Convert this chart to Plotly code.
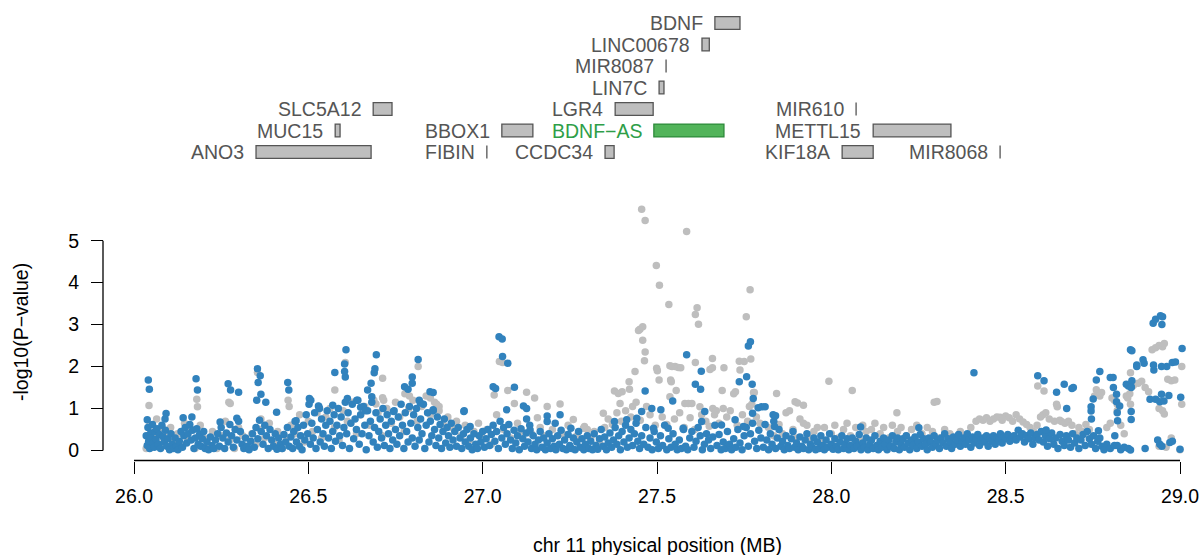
import plotly.graph_objects as go

# ---------------- gene track data ----------------
gene_names = ["BDNF", "LINC00678", "MIR8087", "LIN7C", "SLC5A12", "LGR4", "MIR610",
              "MUC15", "BBOX1", "BDNF\u2212AS", "METTL15", "ANO3", "FIBIN", "CCDC34",
              "KIF18A", "MIR8068"]
gene_start = [27.666, 27.629, 27.526, 27.506, 26.686, 27.380, 28.071,
              26.577, 27.055, 27.491, 28.120, 26.350, 27.012, 27.351,
              28.031, 28.484]
gene_end = [27.738, 27.650, 27.526, 27.520, 26.740, 27.489, 28.071,
            26.591, 27.144, 27.692, 28.343, 26.680, 27.012, 27.377,
            28.120, 28.484]
gene_row = [1, 2, 3, 4, 5, 5, 5, 6, 6, 6, 6, 7, 7, 7, 7, 7]
highlight_gene = "BDNF\u2212AS"

# ---------------- association data (MB, -log10 P) ----------------
grey_snps = [
    # 26.0 - 27.35 background
    (26.035, 0.05), (26.045, 0.60), (26.055, 0.30), (26.065, 0.75), (26.075, 0.15), (26.085, 0.50),
    (26.095, 0.35), (26.105, 0.55), (26.115, 0.20), (26.125, 0.40), (26.135, 0.10), (26.145, 0.65),
    (26.155, 0.25), (26.165, 0.50), (26.175, 0.05), (26.190, 0.60), (26.200, 0.30), (26.212, 0.15),
    (26.225, 0.45), (26.238, 0.05), (26.250, 0.35), (26.262, 0.70), (26.275, 0.25), (26.288, 0.05),
    (26.300, 0.55), (26.312, 0.35), (26.325, 0.05), (26.338, 0.40), (26.350, 0.15), (26.362, 0.50),
    (26.375, 0.30), (26.388, 0.65), (26.400, 0.20), (26.412, 0.45), (26.425, 0.05), (26.438, 0.30),
    (26.450, 0.60), (26.462, 0.40), (26.475, 0.85), (26.488, 0.20), (26.500, 0.70), (26.512, 0.45),
    (26.525, 0.90), (26.538, 0.30), (26.550, 0.80), (26.562, 1.00), (26.575, 0.55), (26.588, 0.25),
    (26.600, 0.95), (26.612, 0.70), (26.625, 1.15), (26.638, 0.40), (26.650, 0.85), (26.662, 1.05),
    (26.675, 0.60), (26.688, 1.20), (26.700, 0.90), (26.712, 0.35), (26.725, 1.00), (26.738, 0.65),
    (26.750, 1.15), (26.762, 0.80), (26.775, 0.45), (26.788, 1.00), (26.800, 1.20), (26.812, 0.70),
    (26.825, 1.05), (26.838, 1.30), (26.850, 0.85), (26.862, 1.15), (26.875, 0.95), (26.888, 0.60),
    (26.900, 0.80), (26.912, 0.55), (26.925, 0.70), (26.938, 0.35), (26.950, 0.60), (26.962, 0.25),
    (26.975, 0.45), (26.988, 0.65), (27.000, 0.30), (27.012, 0.50), (27.025, 0.15), (27.040, 0.85),
    (27.060, 0.50), (27.080, 0.30), (27.100, 0.65), (27.110, 0.45), (27.140, 0.40), (27.165, 0.55),
    (27.175, 0.35), (27.200, 0.50), (27.230, 0.40), (27.245, 0.60), (27.270, 0.35), (27.310, 0.30),
    (27.320, 0.45), (27.335, 0.20),
    # 26.0 - 27.35 elevated
    (26.043, 1.07), (26.180, 1.22), (26.182, 1.04), (26.272, 1.15), (26.276, 1.12), (26.354, 1.86),
    (26.364, 0.75), (26.378, 0.60), (26.442, 1.20), (26.445, 1.05), (26.576, 1.44), (26.606, 2.10),
    (26.713, 1.72), (26.694, 1.11), (26.713, 1.26), (26.716, 1.20), (26.815, 2.00), (26.777, 1.35),
    (26.790, 1.30), (26.868, 1.10), (26.875, 1.05), (26.850, 1.25), (27.033, 1.32), (27.048, 2.12),
    (27.057, 2.10), (27.072, 1.43), (27.091, 1.12), (27.126, 1.39), (27.149, 1.25), (27.157, 0.78),
    (27.185, 1.05), (27.222, 1.11), (27.260, 0.74), (27.292, 0.57), (27.300, 0.50), (27.289, 0.53),
    # 27.35 - 27.95 peak
    (27.456, 5.75), (27.466, 5.48), (27.585, 5.22), (27.498, 4.41), (27.507, 3.94), (27.534, 3.48),
    (27.615, 3.40), (27.610, 3.24), (27.619, 3.01), (27.767, 3.83), (27.756, 3.19), (27.769, 2.18),
    (27.451, 2.89), (27.447, 2.86), (27.459, 2.95), (27.459, 2.63), (27.466, 2.35), (27.464, 2.14),
    (27.499, 1.96), (27.501, 1.90), (27.506, 1.68), (27.437, 1.88), (27.420, 1.64), (27.537, 2.02),
    (27.543, 2.00), (27.552, 2.00), (27.561, 1.98), (27.568, 1.97), (27.539, 1.68), (27.541, 1.64),
    (27.610, 2.10), (27.659, 2.19), (27.659, 1.97), (27.652, 1.93), (27.692, 1.97), (27.378, 1.42),
    (27.389, 1.36), (27.400, 1.40), (27.421, 1.46), (27.394, 1.12), (27.430, 1.05), (27.346, 0.89),
    (27.537, 1.28), (27.555, 1.43), (27.580, 1.12), (27.590, 1.12), (27.600, 1.12), (27.623, 1.04),
    (27.660, 1.00), (27.670, 0.95), (27.690, 1.00), (27.687, 1.43), (27.720, 1.35), (27.725, 1.40),
    (27.736, 2.13), (27.750, 2.12), (27.738, 1.92), (27.777, 1.38), (27.779, 1.38), (27.765, 1.05),
    (27.772, 1.10), (27.843, 1.36), (27.896, 1.16), (27.903, 1.13), (27.870, 0.90), (27.880, 0.95),
    (27.910, 0.75), (27.930, 0.60), (27.960, 0.55), (27.993, 1.65), (27.920, 1.08), (27.920, 0.65),
    (27.350, 0.55), (27.360, 0.75), (27.372, 0.62), (27.385, 0.90), (27.398, 0.70), (27.410, 0.95),
    (27.425, 0.80), (27.440, 1.15), (27.452, 0.72), (27.470, 1.05), (27.480, 0.85), (27.495, 0.60),
    (27.515, 0.80), (27.528, 0.62), (27.550, 0.75), (27.565, 0.90), (27.578, 0.55), (27.595, 0.78),
    (27.608, 0.50), (27.628, 0.85), (27.640, 0.70), (27.650, 0.58), (27.665, 0.85), (27.678, 0.65),
    (27.700, 0.80), (27.710, 0.95), (27.730, 0.60), (27.745, 0.85), (27.760, 0.70), (27.785, 0.80),
    (27.795, 0.65), (27.820, 0.55), (27.835, 0.35), (27.850, 0.62), (27.860, 0.40), (27.890, 0.50),
    (27.900, 0.30),
    # 27.95 - 28.6
    (28.060, 1.43), (28.188, 0.90), (28.295, 1.15), (28.303, 1.17), (28.484, 0.79),
    (27.940, 0.30), (27.950, 0.45), (27.970, 0.25), (27.980, 0.55), (28.000, 0.40), (28.010, 0.60),
    (28.020, 0.30), (28.035, 0.50), (28.045, 0.65), (28.055, 0.35), (28.070, 0.55), (28.080, 0.25),
    (28.090, 0.60), (28.100, 0.45), (28.115, 0.50), (28.125, 0.65), (28.140, 0.40), (28.150, 0.55),
    (28.165, 0.30), (28.175, 0.60), (28.190, 0.45), (28.200, 0.55), (28.215, 0.35), (28.230, 0.50),
    (28.245, 0.60), (28.260, 0.40), (28.275, 0.55), (28.290, 0.45), (28.310, 0.30), (28.325, 0.50),
    (28.340, 0.40), (28.355, 0.25), (28.370, 0.45), (28.385, 0.35), (28.400, 0.55), (28.415, 0.70),
    (28.425, 0.75), (28.435, 0.72), (28.445, 0.78), (28.455, 0.70), (28.465, 0.75), (28.475, 0.80),
    (28.490, 0.72), (28.500, 0.82), (28.510, 0.78), (28.520, 0.70), (28.530, 0.85), (28.540, 0.75),
    (28.550, 0.68), (28.560, 0.62), (28.570, 0.55), (28.580, 0.45), (28.590, 0.60),
    # 28.6 - 29.0
    (28.592, 1.54), (28.610, 1.42), (28.607, 0.85), (28.615, 0.90), (28.600, 0.80), (28.625, 0.75),
    (28.640, 0.70), (28.648, 1.04), (28.646, 1.10), (28.655, 0.72), (28.660, 0.69), (28.670, 0.65),
    (28.680, 0.70), (28.690, 0.60), (28.700, 0.40), (28.710, 0.55), (28.720, 0.45), (28.730, 0.62),
    (28.740, 0.50), (28.755, 1.30), (28.760, 1.45), (28.770, 1.30), (28.775, 1.38), (28.790, 0.55),
    (28.800, 0.65), (28.805, 1.25), (28.812, 1.20), (28.820, 1.10), (28.820, 0.95), (28.830, 0.60),
    (28.840, 0.40), (28.846, 1.30), (28.850, 1.25), (28.856, 1.35), (28.858, 1.85), (28.858, 1.10),
    (28.862, 1.62), (28.866, 1.55), (28.880, 1.60), (28.890, 1.65), (28.900, 1.50), (28.910, 1.40),
    (28.920, 2.40), (28.930, 2.45), (28.940, 2.50), (28.950, 2.47), (28.955, 2.55), (28.940, 1.00),
    (28.950, 0.95), (28.955, 0.87), (28.965, 1.70), (28.975, 1.66), (28.985, 1.68), (29.005, 2.00),
    (29.005, 1.10), (28.940, 0.10), (28.960, 0.08), (29.000, 0.02), (28.975, 0.30),
]

blue_snps = [
    # 26.03 - 26.45 low
    (26.035, 0.35), (26.038, 0.12), (26.040, 0.55), (26.042, 0.22), (26.045, 0.05), (26.048, 0.42),
    (26.050, 0.30), (26.053, 0.62), (26.055, 0.18), (26.058, 0.08), (26.060, 0.45), (26.063, 0.27),
    (26.066, 0.52), (26.070, 0.15), (26.073, 0.38), (26.076, 0.05), (26.080, 0.60), (26.083, 0.33),
    (26.087, 0.20), (26.090, 0.48), (26.094, 0.10), (26.098, 0.28), (26.102, 0.02), (26.106, 0.40),
    (26.110, 0.15), (26.114, 0.05), (26.118, 0.30), (26.122, 0.10), (26.126, 0.02), (26.130, 0.22),
    (26.135, 0.45), (26.139, 0.08), (26.143, 0.35), (26.147, 0.55), (26.151, 0.18), (26.155, 0.40),
    (26.160, 0.62), (26.164, 0.25), (26.168, 0.48), (26.172, 0.05), (26.176, 0.30), (26.180, 0.52),
    (26.184, 0.15), (26.188, 0.38), (26.192, 0.10), (26.196, 0.28), (26.200, 0.45), (26.204, 0.05),
    (26.209, 0.20), (26.214, 0.02), (26.219, 0.32), (26.224, 0.12), (26.229, 0.05), (26.234, 0.25),
    (26.240, 0.40), (26.245, 0.10), (26.250, 0.55), (26.255, 0.30), (26.260, 0.05), (26.265, 0.42),
    (26.270, 0.20), (26.275, 0.62), (26.280, 0.35), (26.285, 0.08), (26.290, 0.50), (26.295, 0.25),
    (26.300, 0.70), (26.305, 0.45), (26.310, 0.15), (26.315, 0.05), (26.320, 0.30), (26.325, 0.10),
    (26.330, 0.02), (26.335, 0.22), (26.340, 0.40), (26.345, 0.08), (26.350, 0.55), (26.355, 0.28),
    (26.360, 0.72), (26.365, 0.45), (26.370, 0.15), (26.375, 0.60), (26.380, 0.35), (26.385, 0.05),
    (26.390, 0.50), (26.395, 0.25), (26.400, 0.10), (26.405, 0.40), (26.410, 0.03), (26.415, 0.30),
    (26.420, 0.15), (26.425, 0.05), (26.430, 0.38), (26.435, 0.20), (26.440, 0.55), (26.445, 0.10),
    (26.450, 0.32),
    # 26.45 - 26.95 low / mid
    (26.455, 0.05), (26.458, 0.45), (26.462, 0.70), (26.466, 0.20), (26.470, 0.55), (26.474, 0.10),
    (26.478, 0.35), (26.482, 0.02), (26.486, 0.60), (26.490, 0.25), (26.494, 0.85), (26.498, 0.40),
    (26.502, 1.10), (26.506, 0.15), (26.510, 0.65), (26.514, 0.30), (26.518, 0.90), (26.522, 0.05),
    (26.526, 0.50), (26.530, 1.05), (26.534, 0.20), (26.538, 0.75), (26.542, 0.40), (26.546, 0.10),
    (26.550, 0.60), (26.554, 0.95), (26.558, 0.30), (26.562, 0.70), (26.566, 0.05), (26.570, 0.45),
    (26.574, 0.85), (26.578, 0.22), (26.582, 0.60), (26.586, 1.00), (26.590, 0.35), (26.594, 0.80),
    (26.598, 0.12), (26.602, 0.55), (26.606, 1.15), (26.610, 0.40), (26.614, 0.90), (26.618, 0.05),
    (26.622, 0.65), (26.626, 1.10), (26.630, 0.28), (26.634, 0.75), (26.638, 0.50), (26.642, 1.20),
    (26.646, 0.15), (26.650, 0.85), (26.654, 0.40), (26.658, 1.05), (26.662, 0.60), (26.666, 0.02),
    (26.670, 0.95), (26.674, 0.35), (26.678, 0.70), (26.682, 1.15), (26.686, 0.20), (26.690, 0.55),
    (26.694, 0.90), (26.698, 0.08), (26.702, 0.45), (26.706, 0.75), (26.710, 0.30), (26.714, 1.00),
    (26.718, 0.12), (26.722, 0.60), (26.726, 0.85), (26.730, 0.40), (26.734, 0.05), (26.738, 0.70),
    (26.742, 0.25), (26.746, 0.95), (26.750, 0.50), (26.754, 0.15), (26.758, 0.80), (26.762, 0.35),
    (26.766, 1.10), (26.770, 0.60), (26.774, 0.05), (26.778, 0.90), (26.782, 0.45), (26.786, 0.20),
    (26.790, 1.05), (26.794, 0.65), (26.798, 0.30), (26.802, 0.85), (26.806, 0.10), (26.810, 1.00),
    (26.814, 0.55), (26.818, 0.25), (26.822, 0.75), (26.826, 0.40), (26.830, 1.10), (26.834, 0.05),
    (26.838, 0.60), (26.842, 0.90), (26.846, 0.20), (26.850, 0.70), (26.854, 0.35), (26.858, 0.95),
    (26.862, 0.50), (26.866, 0.12), (26.870, 0.80), (26.874, 0.30), (26.878, 0.62), (26.882, 0.05),
    (26.886, 0.45), (26.890, 0.75), (26.894, 0.18), (26.898, 0.55), (26.902, 0.35), (26.906, 0.08),
    (26.910, 0.65), (26.915, 0.25), (26.920, 0.45), (26.925, 0.10), (26.930, 0.55), (26.935, 0.30),
    (26.940, 0.05), (26.945, 0.40), (26.950, 0.20),
    # 26.95 - 27.45 low
    (26.955, 0.50), (26.960, 0.10), (26.965, 0.30), (26.970, 0.02), (26.975, 0.40), (26.980, 0.15),
    (26.985, 0.05), (26.990, 0.35), (26.995, 0.20), (27.000, 0.45), (27.005, 0.08), (27.010, 0.28),
    (27.015, 0.50), (27.020, 0.12), (27.025, 0.38), (27.030, 0.60), (27.035, 0.22), (27.040, 0.45),
    (27.045, 0.05), (27.050, 0.70), (27.055, 0.30), (27.060, 0.55), (27.065, 0.15), (27.070, 0.40),
    (27.075, 0.62), (27.080, 0.25), (27.085, 0.05), (27.090, 0.48), (27.095, 0.18), (27.100, 0.35),
    (27.105, 0.02), (27.110, 0.52), (27.115, 0.28), (27.120, 0.10), (27.125, 0.42), (27.130, 0.20),
    (27.135, 0.60), (27.140, 0.05), (27.145, 0.35), (27.150, 0.15), (27.155, 0.02), (27.160, 0.25),
    (27.165, 0.45), (27.170, 0.08), (27.175, 0.30), (27.180, 0.02), (27.185, 0.18), (27.190, 0.40),
    (27.195, 0.05), (27.200, 0.28), (27.205, 0.10), (27.210, 0.02), (27.215, 0.35), (27.220, 0.15),
    (27.225, 0.48), (27.230, 0.05), (27.235, 0.25), (27.240, 0.02), (27.245, 0.38), (27.250, 0.12),
    (27.255, 0.05), (27.260, 0.30), (27.265, 0.02), (27.270, 0.20), (27.275, 0.45), (27.280, 0.08),
    (27.285, 0.28), (27.290, 0.02), (27.295, 0.15), (27.300, 0.35), (27.305, 0.05), (27.310, 0.22),
    (27.315, 0.02), (27.320, 0.40), (27.325, 0.12), (27.330, 0.03), (27.335, 0.28), (27.340, 0.50),
    (27.345, 0.10), (27.350, 0.32), (27.355, 0.02), (27.360, 0.18), (27.365, 0.42), (27.370, 0.08),
    (27.375, 0.25), (27.380, 0.55), (27.385, 0.15), (27.390, 0.35), (27.395, 0.02), (27.400, 0.45),
    (27.405, 0.20), (27.410, 0.60), (27.415, 0.08), (27.420, 0.30), (27.425, 0.50), (27.430, 0.12),
    (27.435, 0.40), (27.440, 0.65), (27.445, 0.22),
    # 27.45 - 27.8 low
    (27.450, 0.05), (27.456, 0.35), (27.462, 0.15), (27.468, 0.55), (27.474, 0.08), (27.480, 0.30),
    (27.486, 0.02), (27.492, 0.45), (27.498, 0.20), (27.504, 0.05), (27.510, 0.35), (27.516, 0.12),
    (27.522, 0.60), (27.528, 0.02), (27.534, 0.28), (27.540, 0.08), (27.546, 0.40), (27.552, 0.15),
    (27.558, 0.02), (27.564, 0.25), (27.570, 0.05), (27.576, 0.50), (27.582, 0.10), (27.588, 0.02),
    (27.594, 0.30), (27.600, 0.45), (27.606, 0.08), (27.612, 0.22), (27.618, 0.55), (27.624, 0.35),
    (27.630, 0.02), (27.636, 0.15), (27.642, 0.40), (27.648, 0.25), (27.654, 0.05), (27.660, 0.32),
    (27.666, 0.60), (27.672, 0.12), (27.678, 0.38), (27.684, 0.02), (27.690, 0.20), (27.696, 0.05),
    (27.702, 0.45), (27.708, 0.15), (27.714, 0.02), (27.720, 0.28), (27.726, 0.08), (27.732, 0.50),
    (27.738, 0.18), (27.744, 0.02), (27.750, 0.35), (27.756, 0.55), (27.762, 0.10), (27.768, 0.40),
    (27.774, 0.65), (27.780, 0.22), (27.786, 0.05), (27.792, 0.48), (27.798, 0.30),
    # 27.8 - 28.6 bottom band
    (27.805, 0.08), (27.810, 0.62), (27.815, 0.25), (27.820, 0.02), (27.825, 0.40), (27.830, 0.15),
    (27.835, 0.70), (27.840, 0.05), (27.845, 0.30), (27.850, 0.50), (27.855, 0.10), (27.860, 0.22),
    (27.865, 0.02), (27.870, 0.35), (27.875, 0.12), (27.880, 0.05), (27.885, 0.28), (27.890, 0.45),
    (27.895, 0.08), (27.900, 0.18), (27.905, 0.02), (27.910, 0.32), (27.915, 0.10), (27.920, 0.05),
    (27.925, 0.25), (27.930, 0.40), (27.935, 0.02), (27.940, 0.15), (27.945, 0.08), (27.950, 0.30),
    (27.955, 0.02), (27.960, 0.20), (27.965, 0.05), (27.970, 0.35), (27.975, 0.12), (27.980, 0.02),
    (27.985, 0.25), (27.990, 0.08), (27.995, 0.40), (28.000, 0.15), (28.005, 0.03), (28.010, 0.28),
    (28.015, 0.10), (28.020, 0.02), (28.025, 0.20), (28.030, 0.35), (28.035, 0.05), (28.040, 0.15),
    (28.045, 0.28), (28.050, 0.02), (28.055, 0.12), (28.060, 0.30), (28.065, 0.05), (28.070, 0.22),
    (28.075, 0.10), (28.080, 0.38), (28.085, 0.02), (28.090, 0.18), (28.095, 0.08), (28.100, 0.30),
    (28.105, 0.02), (28.110, 0.15), (28.115, 0.25), (28.120, 0.05), (28.125, 0.35), (28.130, 0.12),
    (28.135, 0.02), (28.140, 0.22), (28.145, 0.08), (28.150, 0.30), (28.155, 0.15), (28.160, 0.02),
    (28.165, 0.25), (28.170, 0.10), (28.175, 0.35), (28.180, 0.05), (28.185, 0.20), (28.190, 0.30),
    (28.195, 0.02), (28.200, 0.15), (28.205, 0.28), (28.210, 0.08), (28.215, 0.35), (28.220, 0.18),
    (28.225, 0.02), (28.230, 0.25), (28.235, 0.12), (28.240, 0.32), (28.245, 0.05), (28.250, 0.20),
    (28.255, 0.38), (28.260, 0.10), (28.265, 0.28), (28.270, 0.15), (28.275, 0.02), (28.280, 0.30),
    (28.285, 0.20), (28.290, 0.08), (28.295, 0.35), (28.300, 0.15), (28.305, 0.25), (28.310, 0.05),
    (28.315, 0.30), (28.320, 0.18), (28.325, 0.40), (28.330, 0.10), (28.335, 0.28), (28.340, 0.20),
    (28.345, 0.05), (28.350, 0.32), (28.355, 0.15), (28.360, 0.25), (28.365, 0.38), (28.370, 0.10),
    (28.375, 0.22), (28.380, 0.30), (28.385, 0.15), (28.390, 0.40), (28.395, 0.25), (28.400, 0.08),
    (28.405, 0.32), (28.410, 0.18), (28.415, 0.28), (28.420, 0.38), (28.425, 0.12), (28.430, 0.25),
    (28.435, 0.30), (28.440, 0.20), (28.445, 0.35), (28.450, 0.10), (28.455, 0.28), (28.460, 0.22),
    (28.465, 0.35), (28.470, 0.15), (28.475, 0.30), (28.480, 0.25), (28.485, 0.40), (28.490, 0.18),
    (28.495, 0.32), (28.500, 0.28), (28.506, 0.38), (28.512, 0.22), (28.518, 0.30), (28.524, 0.35),
    (28.530, 0.25), (28.536, 0.48), (28.542, 0.32), (28.548, 0.40), (28.554, 0.20), (28.560, 0.35),
    (28.566, 0.28), (28.572, 0.42), (28.578, 0.15), (28.584, 0.30), (28.590, 0.38), (28.596, 0.25),
    # 28.6 - 29.0 low
    (28.602, 0.45), (28.608, 0.20), (28.614, 0.35), (28.620, 0.10), (28.626, 0.28), (28.632, 0.42),
    (28.638, 0.15), (28.644, 0.30), (28.650, 0.05), (28.656, 0.38), (28.662, 0.22), (28.668, 0.12),
    (28.674, 0.35), (28.680, 0.25), (28.686, 0.08), (28.692, 0.40), (28.698, 0.18), (28.704, 0.30),
    (28.710, 0.05), (28.716, 0.25), (28.722, 0.38), (28.728, 0.12), (28.734, 0.45), (28.740, 0.28),
    (28.746, 0.15), (28.752, 0.35), (28.758, 0.05), (28.764, 0.22), (28.770, 0.30), (28.776, 0.10),
    (28.782, 0.02), (28.790, 0.15), (28.800, 0.05), (28.830, 0.02), (28.840, 0.08), (28.900, 0.05),
    # elevated points
    (26.038, 0.73), (26.041, 1.68), (26.044, 1.46), (26.089, 0.75), (26.092, 0.88), (26.141, 0.78),
    (26.166, 0.80), (26.178, 1.71), (26.182, 1.44), (26.247, 0.68), (26.270, 1.59), (26.277, 1.44),
    (26.295, 0.77), (26.300, 1.39), (26.352, 1.20), (26.354, 1.95), (26.356, 1.62), (26.362, 1.78),
    (26.364, 1.34), (26.378, 1.15), (26.409, 0.91), (26.441, 1.62), (26.444, 1.44), (26.465, 0.71),
    (26.503, 1.24), (26.507, 1.20), (26.529, 1.06), (26.532, 1.00), (26.570, 1.08), (26.576, 1.86),
    (26.604, 2.06), (26.606, 1.75), (26.604, 1.88), (26.608, 2.40), (26.612, 1.24), (26.639, 1.20),
    (26.650, 1.03), (26.664, 0.95), (26.670, 1.44), (26.680, 1.60), (26.682, 1.28), (26.689, 1.85),
    (26.691, 1.95), (26.695, 2.28), (26.744, 0.93), (26.776, 1.52), (26.786, 1.46), (26.798, 1.60),
    (26.798, 1.75), (26.815, 2.17), (26.818, 1.20), (26.821, 1.14), (26.849, 1.40), (26.858, 1.38),
    (26.858, 0.97), (26.946, 0.93), (26.947, 0.95), (26.964, 0.57),
    (27.030, 1.52), (27.037, 1.48), (27.047, 2.71), (27.056, 2.66), (27.057, 2.24), (27.069, 0.97),
    (27.072, 2.08), (27.091, 1.51), (27.117, 1.06), (27.126, 1.00), (27.126, 0.75), (27.185, 0.82),
    (27.222, 0.85), (27.253, 0.53), (27.208, 0.65), (27.185, 0.69), (27.136, 0.49),
    (27.378, 0.69), (27.413, 0.73), (27.442, 0.77), (27.490, 0.53), (27.532, 0.53), (27.575, 0.53),
    (27.628, 0.69), (27.685, 0.61), (27.724, 0.73), (27.748, 0.57),
    (27.456, 0.93), (27.466, 1.42), (27.485, 1.00), (27.511, 0.97), (27.545, 1.18), (27.585, 2.28),
    (27.610, 1.58), (27.625, 1.46), (27.627, 1.89), (27.637, 0.93), (27.736, 1.64), (27.757, 1.76),
    (27.762, 2.49), (27.768, 2.59), (27.773, 1.58), (27.776, 1.24), (27.774, 0.89), (27.790, 1.02),
    (27.800, 1.04), (27.810, 1.04), (27.833, 0.85), (27.840, 0.83), (27.837, 0.57),
    (28.084, 0.56), (28.251, 0.54), (28.409, 1.85),
    (28.592, 1.78), (28.610, 1.66), (28.616, 0.49), (28.646, 1.39), (28.668, 1.58), (28.690, 1.48),
    (28.694, 1.50), (28.675, 1.00), (28.745, 1.04), (28.745, 0.94), (28.746, 0.75), (28.751, 1.23),
    (28.760, 1.68), (28.770, 1.88), (28.766, 0.47), (28.800, 1.74), (28.808, 1.74), (28.809, 1.50),
    (28.818, 1.34), (28.818, 1.16), (28.827, 1.06), (28.820, 0.90), (28.821, 0.71), (28.813, 0.35),
    (28.812, 0.12), (28.820, 0.12), (28.846, 1.58), (28.852, 1.54), (28.856, 1.56), (28.860, 1.52),
    (28.858, 2.40), (28.862, 2.38), (28.862, 1.66), (28.860, 1.50), (28.860, 0.93), (28.860, 0.74),
    (28.852, 0.05), (28.858, 0.01), (28.876, 2.04), (28.876, 2.00), (28.894, 2.16), (28.897, 2.08),
    (28.923, 3.03), (28.925, 1.92), (28.924, 2.04), (28.930, 3.13), (28.944, 3.21), (28.950, 3.19),
    (28.948, 3.00), (28.914, 1.22), (28.930, 1.22), (28.942, 1.16), (28.954, 1.18), (28.947, 1.34),
    (28.968, 1.31), (28.947, 2.00), (28.962, 2.00), (28.978, 2.10), (28.987, 2.11), (29.006, 2.43),
    (29.002, 1.27), (28.936, 0.25), (28.942, 0.15), (28.948, 0.10), (28.971, 0.19), (28.978, 0.22),
    (29.000, 0.03),
]

x_ticks = [26.0, 26.5, 27.0, 27.5, 28.0, 28.5, 29.0]
x_tick_labels = ["26.0", "26.5", "27.0", "27.5", "28.0", "28.5", "29.0"]
y_ticks = [0, 1, 2, 3, 4, 5]
x_axis_span = [26.0, 29.0]
y_axis_span = [0, 5]

FONT = "Liberation Sans, Arial, Helvetica, sans-serif"
FS = 19.5
W, H = 1199, 555

# pixel geometry of the panels
PX_PER_MB = (1180 - 134) / 3.0
X_LEFT_PX, X_RIGHT_PX = 120, 1196
Y0_PX, PX_PER_UNIT = 450.5, (450.5 - 240.7) / 5.0
Y_TOP_PX, Y_BOT_PX = 200, 462
X_AXIS_PX, Y_AXIS_PX = 460.5, 103

x_range = [26 + (X_LEFT_PX - 134) / PX_PER_MB, 26 + (X_RIGHT_PX - 134) / PX_PER_MB]
y_range = [(Y0_PX - Y_BOT_PX) / PX_PER_UNIT, (Y0_PX - Y_TOP_PX) / PX_PER_UNIT]

fig = go.Figure()

gx = [p[0] for p in grey_snps]
gy = [p[1] for p in grey_snps]
bx = [p[0] for p in blue_snps]
by = [p[1] for p in blue_snps]

fig.add_trace(go.Scatter(x=gx, y=gy, mode="markers", cliponaxis=False,
                         marker=dict(color="#bebebe", size=7.5, line=dict(width=0)),
                         showlegend=False, hoverinfo="skip"))
fig.add_trace(go.Scatter(x=bx, y=by, mode="markers", cliponaxis=False,
                         marker=dict(color="#3182bd", size=7.5, line=dict(width=0)),
                         showlegend=False, hoverinfo="skip"))
fig.add_trace(go.Scatter(x=[None], y=[None], xaxis="x", yaxis="y2",
                         showlegend=False, hoverinfo="skip"))

half_h = 0.30
annotations = []
shapes = []
for name, s, e, r in zip(gene_names, gene_start, gene_end, gene_row):
    hl = (name == highlight_gene)
    shapes.append(dict(type="rect", xref="x", yref="y2", x0=s, x1=e,
                       y0=r - half_h, y1=r + half_h,
                       fillcolor="#52b45a" if hl else "#bebebe",
                       line=dict(color="#2d8a3a" if hl else "#555555", width=1.3),
                       layer="above"))
    annotations.append(dict(x=s, y=r, xref="x", yref="y2", text=name, showarrow=False,
                            xanchor="right", yanchor="middle", xshift=-10,
                            font=dict(family=FONT, size=FS,
                                      color="#2e9e48" if hl else "#555555")))

# R-style detached axis lines spanning only the labelled range
shapes.append(dict(type="line", xref="x", yref="paper",
                   x0=x_axis_span[0], x1=x_axis_span[1],
                   y0=(H - X_AXIS_PX) / H, y1=(H - X_AXIS_PX) / H,
                   line=dict(color="black", width=1.3), layer="above"))
shapes.append(dict(type="line", xref="paper", yref="y",
                   x0=Y_AXIS_PX / W, x1=Y_AXIS_PX / W,
                   y0=y_axis_span[0], y1=y_axis_span[1],
                   line=dict(color="black", width=1.3), layer="above"))

annotations.append(dict(x=(134 + 1180) / 2 / W, y=(H - 545) / H, xref="paper", yref="paper",
                        text="chr 11 physical position (MB)", showarrow=False,
                        xanchor="center", yanchor="middle",
                        font=dict(family=FONT, size=FS, color="#000000")))
annotations.append(dict(x=21 / W, y=(H - 332) / H, xref="paper", yref="paper",
                        text="-log10(P\u2212value)", showarrow=False, textangle=-90,
                        xanchor="center", yanchor="middle",
                        font=dict(family=FONT, size=FS, color="#000000")))

fig.update_layout(
    width=W, height=H,
    margin=dict(l=0, r=0, t=0, b=0, autoexpand=False),
    paper_bgcolor="white", plot_bgcolor="white",
    showlegend=False,
    xaxis=dict(domain=[X_LEFT_PX / W, X_RIGHT_PX / W], range=x_range, anchor="free",
               position=(H - X_AXIS_PX) / H, automargin=False,
               showline=False,
               ticks="outside", ticklen=12, tickwidth=1.3, tickcolor="black",
               tickvals=x_ticks, ticktext=x_tick_labels, ticklabelstandoff=6,
               ticklabeloverflow="allow",
               tickfont=dict(family=FONT, size=FS, color="black"),
               showgrid=False, zeroline=False),
    yaxis=dict(domain=[(H - Y_BOT_PX) / H, (H - Y_TOP_PX) / H], range=y_range, anchor="free",
               position=Y_AXIS_PX / W, automargin=False,
               showline=False,
               ticks="outside", ticklen=12, tickwidth=1.3, tickcolor="black",
               tickvals=y_ticks, ticklabelstandoff=8,
               ticklabeloverflow="allow",
               tickfont=dict(family=FONT, size=FS, color="black"),
               showgrid=False, zeroline=False),
    yaxis2=dict(domain=[(H - 170) / H, 1.0], range=[7.837, -0.0698], anchor="x",
                visible=False, showgrid=False, zeroline=False, automargin=False),
    shapes=shapes,
    annotations=annotations,
)

fig.write_html("out.html",
               config={"displayModeBar": False},
               post_script="document.body.style.margin='0px';"
                           "document.body.style.overflow='hidden';")
